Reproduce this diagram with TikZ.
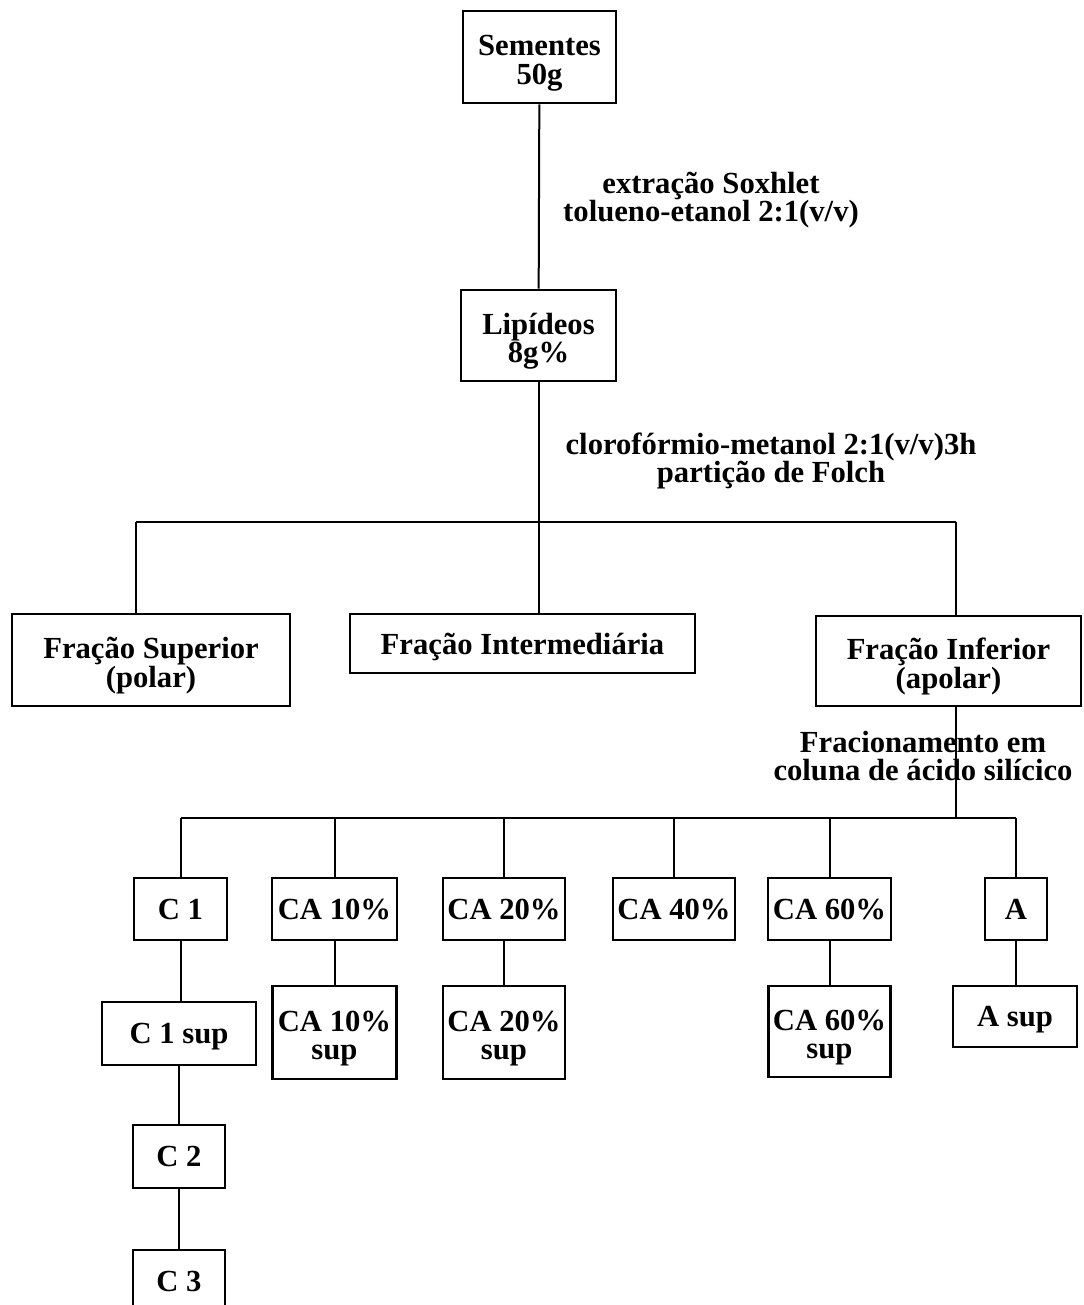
\documentclass[tikz,border=0pt]{standalone}
\usepackage{fontspec}
\setmainfont{Liberation Serif}
\begin{document}
\begin{tikzpicture}[x=0.75pt,y=-0.75pt,
  every node/.style={font=\bfseries\fontsize{23}{21.5}\selectfont, align=center},
  box/.style 2 args={draw, line width=1.9pt, inner sep=0pt, text depth=0pt,
    minimum width=#1*0.75pt, minimum height=#2*0.75pt},
  pair/.style={text height=41pt},
  link/.style={line width=1.5pt}]
\useasboundingbox (0,0) rectangle (1083,1305);
\clip (0,0) rectangle (1083,1305);

% main chain
\node[box={153}{92},pair] (sem) at (539.5,57) {Sementes\\50g};
\node[box={155}{91},pair] (lip) at (538.5,335.5) {Lipídeos\\8g\%};
\node (lab1) at (711,200) {extração Soxhlet\\tolueno-etanol 2:1(v/v)};
\node (lab2) at (771,461) {clorofórmio-metanol 2:1(v/v)3h\\partição de Folch};

% Folch partition
\node[box={278}{92},pair] (fsup) at (151,660) {Fração Superior\\(polar)};
\node[box={345}{59}] (fint) at (522.5,643.5) {Fração Intermediária};
\node[box={265}{90},pair] (finf) at (948.5,661) {Fração Inferior\\(apolar)};
\node (lab3) at (923,756) {Fracionamento em\\coluna de ácido silícico};

% column fractions
\node[box={93}{62}]  (c1)   at (180.5,909) {C 1};
\node[box={125}{62}] (ca10) at (334.5,909) {CA 10\%};
\node[box={122}{62}] (ca20) at (504,909)   {CA 20\%};
\node[box={122}{62}] (ca40) at (674,909)   {CA 40\%};
\node[box={123}{62}] (ca60) at (829.5,909) {CA 60\%};
\node[box={62}{62}]  (a)    at (1016,909)  {A};

\node[box={154}{63}] (c1s)   at (179,1033.5)  {C 1 sup};
\node[box={124}{93},pair] (ca10s) at (334.5,1032.5) {CA 10\%\\sup};
\node[box={122}{93},pair] (ca20s) at (504,1032.5)  {CA 20\%\\sup};
\node[box={122}{91},pair] (ca60s) at (829.5,1031.5)  {CA 60\%\\sup};
\node[box={124}{61}] (as)    at (1015,1016.5) {A sup};

\node[box={92}{63}] (c2) at (179,1156.5) {C 2};
\node[box={92}{62}] (c3) at (179,1281)   {C 3};

% bus lines
\coordinate (b1) at (540,522);
\coordinate (b1l) at (136,522);
\coordinate (b1r) at (956,522);
\coordinate (b2) at (956,818);

\draw[link] (sem) -- (lip);
\draw[link] (lip.south) -- (lip.south |- b1);
\draw[link] (b1l) -- (b1r);
\draw[link] (b1l) -- (b1l |- fsup.north);
\draw[link] (lip.south |- b1) -- (lip.south |- fint.north);
\draw[link] (b1r) -- (b1r |- finf.north);

\draw[link] (b2 |- finf.south) -- (b2);
\draw[link] (c1.north |- b2) -- (a.north |- b2);
\foreach \n in {c1,ca10,ca20,ca40,ca60,a}
  \draw[link] (\n.north |- b2) -- (\n.north);

\draw[link] (c1) -- (c1 |- c1s.north);
\draw[link] (ca10) -- (ca10s);
\draw[link] (ca20) -- (ca20s);
\draw[link] (ca60) -- (ca60s);
\draw[link] (a) -- (a |- as.north);
\draw[link] (c1s.south) -- (c1s.south |- c2.north);
\draw[link] (c2) -- (c3);
\end{tikzpicture}
\end{document}
